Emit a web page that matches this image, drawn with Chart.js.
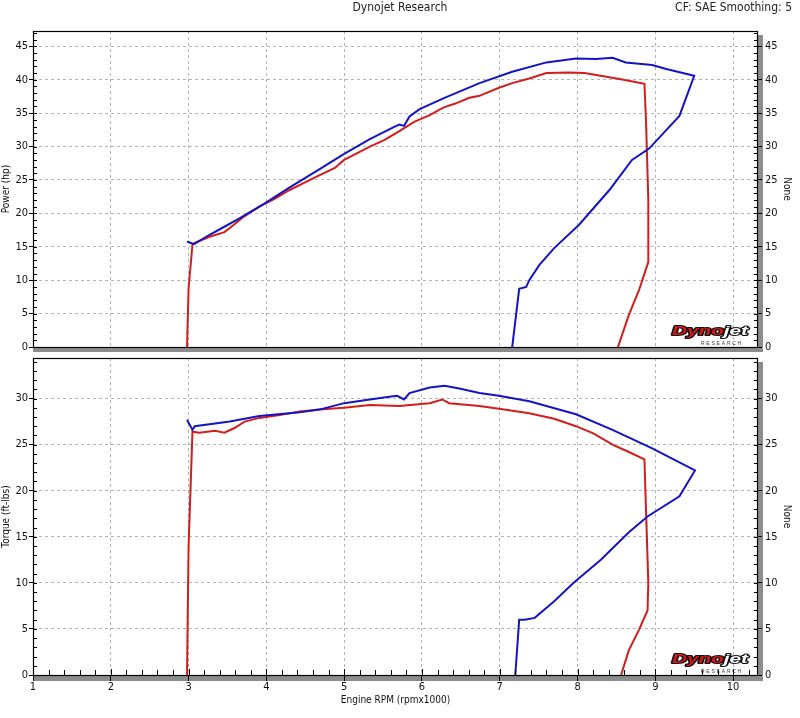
<!DOCTYPE html>
<html><head><meta charset="utf-8">
<script src="https://cdn.jsdelivr.net/npm/chart.js@4.4.1/dist/chart.umd.min.js"></script>
<style>
html,body{margin:0;padding:0;background:#fff;width:800px;height:718px;overflow:hidden;}
.hdr{position:absolute;top:0;font-family:"DejaVu Sans Condensed","DejaVu Sans",sans-serif;font-size:12px;color:#222;line-height:15px;z-index:2;white-space:nowrap;}
#topWrap{position:absolute;left:0;top:0;width:800px;height:356px;}
#botWrap{position:absolute;left:0;top:356px;width:800px;height:362px;}
</style></head><body>
<div class="hdr" style="left:0;width:800px;text-align:center">Dynojet Research</div>
<div class="hdr" style="right:8px">CF: SAE Smoothing: 5</div>
<div id="topWrap"><canvas id="c1" width="800" height="356"></canvas></div>
<div id="botWrap"><canvas id="c2" width="800" height="362"></canvas></div>
<script>
// ---- axis ranges / labels ----
const rpmMin = 1, rpmMax = 10.32;
const powerMax = 47.3, torqueMax = 34.4;
const xTitle = 'Engine RPM (rpmx1000)';
const powerTitle = 'Power (hp)';
const torqueTitle = 'Torque (ft-lbs)';
const rightTitle = 'None';

// ---- Run 1 (red) power ----
const run1PowerRpm = [2.98,3.00,3.05,3.08,3.27,3.46,3.53,3.72,3.91,4.11,4.30,4.49,4.68,4.88,5.00,5.20,5.33,5.52,5.71,5.90,6.10,6.22,6.29,6.42,6.61,6.74,6.99,7.16,7.38,7.60,7.89,8.09,8.24,8.54,8.86,8.88,8.91,8.91,8.79,8.66,8.52];
const run1Power    = [0,8.8,15.3,15.6,16.5,17.2,17.8,19.6,21.0,22.2,23.5,24.6,25.7,26.8,28.0,29.2,30.0,31.0,32.3,33.7,34.7,35.5,35.9,36.4,37.3,37.6,38.8,39.5,40.2,41.0,41.1,41.0,40.7,40.1,39.4,34,22,12.7,8.5,4.8,0];

// ---- Run 2 (blue) power ----
const run2PowerRpm = [2.98,3.07,3.27,3.46,3.66,3.98,4.30,4.68,5.00,5.33,5.65,5.71,5.77,5.84,5.97,6.29,6.74,7.16,7.60,7.98,8.24,8.45,8.62,8.96,9.14,9.50,9.31,8.92,8.70,8.41,8.02,7.70,7.51,7.38,7.34,7.25,7.16];
const run2Power    = [15.8,15.4,16.8,18.0,19.3,21.5,23.9,26.6,28.9,31.1,33.0,33.3,33.1,34.5,35.6,37.3,39.5,41.2,42.6,43.2,43.1,43.3,42.6,42.2,41.6,40.6,34.6,29.7,28.0,23.5,18.3,14.8,12.3,10.0,9.0,8.7,0];

// ---- Run 1 (red) torque ----
const run1TorqueRpm = [2.98,3.00,3.05,3.14,3.34,3.46,3.59,3.72,3.91,4.17,4.43,4.68,5.00,5.33,5.71,6.10,6.26,6.35,6.74,6.99,7.38,7.70,7.98,8.21,8.45,8.66,8.86,8.88,8.91,8.90,8.79,8.66,8.56];
const run1Torque    = [0,14,26.4,26.3,26.5,26.3,26.8,27.5,27.9,28.2,28.6,28.8,29.0,29.3,29.2,29.5,29.9,29.5,29.2,28.9,28.4,27.8,27.0,26.2,25.0,24.2,23.4,18,10,7.0,4.9,2.7,0];

// ---- Run 2 (blue) torque ----
const run2TorqueRpm = [2.98,3.05,3.08,3.53,3.91,4.43,4.68,5.00,5.33,5.58,5.68,5.77,5.84,6.10,6.29,6.48,6.74,6.99,7.38,7.98,8.45,8.96,9.51,9.31,8.90,8.66,8.30,7.95,7.70,7.45,7.32,7.25,7.20];
const run2Torque    = [27.7,26.6,27.0,27.5,28.1,28.5,28.8,29.5,29.9,30.2,30.3,29.9,30.6,31.2,31.4,31.1,30.6,30.3,29.7,28.3,26.6,24.6,22.2,19.4,17.2,15.5,12.5,10,8,6.2,6.0,6.0,0];

const RED = '#d41c1c', BLUE = '#1414c4';
const FONT = '"DejaVu Sans Condensed","DejaVu Sans",sans-serif';

function pts(xs, ys){ return xs.map((x,i)=>({x:x, y:ys[i]})); }
function noPad(s){ s.paddingTop = 0; s.paddingBottom = 0; s.paddingLeft = 0; s.paddingRight = 0; }

const frame = {
  id: 'frame',
  beforeDraw(chart, args, o){
    const {ctx, chartArea:a} = chart;
    ctx.save();
    ctx.fillStyle = '#8c8c8c';
    ctx.fillRect(a.right, a.top + 4, 5, a.bottom - a.top + 1);
    ctx.fillRect(a.left, a.bottom, a.right - a.left + 5, o.bandH || 5);
    ctx.restore();
  },
  afterDatasetsDraw(chart, args, o){
    const {ctx, chartArea:a, scales} = chart;
    const y = scales.y, x = scales.x;
    ctx.save();
    ctx.strokeStyle = '#000';
    ctx.lineWidth = 1;
    ctx.beginPath();
    for (let v = Math.ceil(y.min); v <= y.max; v++) {
      const py = Math.round(y.getPixelForValue(v)) + 0.5;
      ctx.moveTo(a.left, py); ctx.lineTo(a.left + 4, py);
      ctx.moveTo(a.right - 4, py); ctx.lineTo(a.right, py);
    }
    if (o.xMinor) {
      for (let k = 0; k <= 47; k++) {
        const v = 1 + k * 0.2;
        if (v > x.max) break;
        const px = Math.round(x.getPixelForValue(v)) + 0.5;
        const len = (k % 5 === 0) ? 6 : 5;
        ctx.moveTo(px, a.bottom); ctx.lineTo(px, a.bottom - len);
      }
    }
    ctx.stroke();
    ctx.lineWidth = 1.2;
    ctx.strokeRect(Math.round(a.left) + 0.5, Math.round(a.top) + 0.5, Math.round(a.right - a.left) - 1, Math.round(a.bottom - a.top));
    drawLogo(ctx, a.right - 10, a.bottom - 4);
    ctx.restore();
  }
};

function drawLogo(ctx, right, base){
  ctx.save();
  ctx.font = 'italic bold 13px "Liberation Sans", sans-serif';
  const w1 = ctx.measureText('Dyno').width, w2 = ctx.measureText('jet').width;
  const sx = 76 / (w1 + w2);
  ctx.translate(right - 76, base - 8);
  ctx.scale(sx, 1);
  ctx.lineJoin = 'round';
  ctx.lineWidth = 2.2;
  ctx.strokeStyle = '#111';
  ctx.textBaseline = 'alphabetic';
  ctx.strokeText('Dyno', 0, 0);
  ctx.fillStyle = '#d01818';
  ctx.fillText('Dyno', 0, 0);
  ctx.strokeText('jet', w1, 0);
  ctx.fillStyle = '#fff';
  ctx.fillText('jet', w1, 0);
  ctx.restore();
  ctx.save();
  ctx.font = '5px "Liberation Sans", sans-serif';
  ctx.fillStyle = '#333';
  ctx.textBaseline = 'alphabetic';
  const letters = 'RESEARCH';
  for (let i = 0; i < letters.length; i++) ctx.fillText(letters[i], right - 47 + i * 5.2, base + 2);
  ctx.restore();
}

function yAxis(max, title){
  return {
    type: 'linear', position: 'left', min: 0, max: max,
    afterFit(s){ s.width = 33; noPad(s); },
    ticks: { stepSize: 5, includeBounds: false, padding: 1, color: '#111', font: { family: FONT, size: 11 } },
    grid: { color: '#b4b4b4', tickColor: '#000', tickLength: 4, drawTicks: true, lineWidth: 1 },
    border: { display: false, dash: [3, 3] },
    title: { display: true, text: title, color: '#111', padding: { top: 0, bottom: 0 }, font: { family: FONT, size: 10 } }
  };
}
function y2Axis(max){
  return {
    type: 'linear', position: 'right', min: 0, max: max,
    afterFit(s){ s.width = 42; noPad(s); },
    ticks: { stepSize: 5, includeBounds: false, padding: 3, color: '#111', font: { family: FONT, size: 11 } },
    grid: { drawOnChartArea: false, tickColor: '#000', tickLength: 4, drawTicks: true },
    border: { display: false },
    title: { display: true, text: rightTitle, color: '#111', padding: { top: 7, bottom: 0 }, font: { family: FONT, size: 10 } }
  };
}

function ds(data, color){
  return { data: data, borderColor: color, backgroundColor: color, borderWidth: 2, pointRadius: 0, tension: 0, fill: false };
}

Chart.defaults.animation = false;

new Chart(document.getElementById('c1'), {
  type: 'line',
  data: { datasets: [ ds(pts(run2PowerRpm, run2Power), BLUE), ds(pts(run1PowerRpm, run1Power), RED) ] },
  options: {
    responsive: false, animation: false, events: [],
    layout: { padding: { top: 31, left: 0, right: 0, bottom: 0 }, autoPadding: false },
    plugins: { legend: { display: false }, tooltip: { enabled: false }, frame: { xMinor: false, bandH: 5 } },
    scales: {
      x: {
        type: 'linear', min: rpmMin, max: rpmMax,
        afterFit(s){ s.height = 9; noPad(s); },
        ticks: { display: false, stepSize: 1, includeBounds: false },
        grid: { color: '#b4b4b4', drawTicks: false },
        border: { display: false, dash: [3, 3] }
      },
      y: yAxis(powerMax, powerTitle),
      y2: y2Axis(powerMax)
    }
  },
  plugins: [frame]
});

new Chart(document.getElementById('c2'), {
  type: 'line',
  data: { datasets: [ ds(pts(run2TorqueRpm, run2Torque), BLUE), ds(pts(run1TorqueRpm, run1Torque), RED) ] },
  options: {
    responsive: false, animation: false, events: [],
    layout: { padding: { top: 2, left: 0, right: 0, bottom: 0 }, autoPadding: false },
    plugins: { legend: { display: false }, tooltip: { enabled: false }, frame: { xMinor: true, bandH: 6 } },
    scales: {
      x: {
        type: 'linear', min: rpmMin, max: rpmMax,
        afterFit(s){ s.height = 43; noPad(s); },
        ticks: { stepSize: 1, includeBounds: false, padding: 0, color: '#111', font: { family: FONT, size: 11 } },
        grid: { color: '#b4b4b4', tickColor: '#000', tickLength: 6, drawTicks: true },
        border: { display: false, dash: [3, 3] },
        title: { display: true, text: xTitle, color: '#111', padding: { top: 0, bottom: 12 }, font: { family: FONT, size: 10 } }
      },
      y: yAxis(torqueMax, torqueTitle),
      y2: y2Axis(torqueMax)
    }
  },
  plugins: [frame]
});
</script>
</body></html>
